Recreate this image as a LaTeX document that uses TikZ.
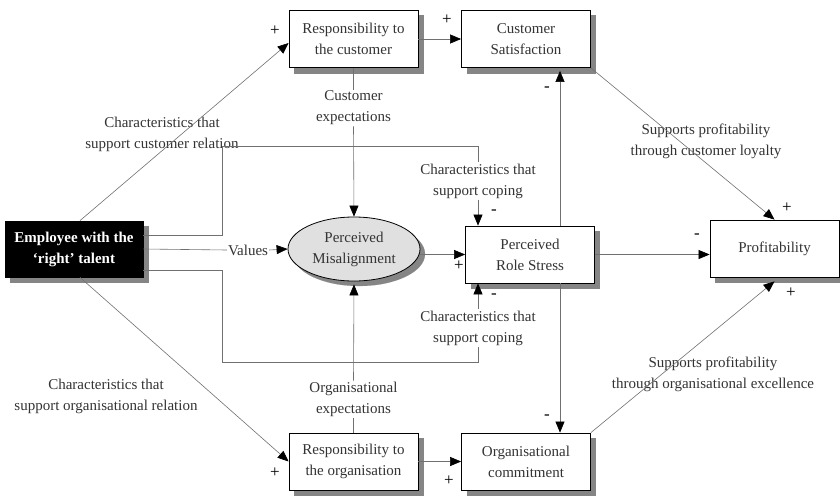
\documentclass[tikz,border=0pt]{standalone}
\usepackage{fontspec}
\setmainfont{Liberation Serif}
\usetikzlibrary{arrows.meta,shapes.geometric,calc}
\definecolor{txt}{HTML}{333333}
\definecolor{lncol}{HTML}{707070}
\definecolor{shgray}{rgb}{0.52,0.52,0.52}
\definecolor{ellfill}{HTML}{E0E0E0}
\begin{document}
\begin{tikzpicture}[x=1pt,y=-1pt,
  font=\fontsize{15}{21}\selectfont, text=txt,
  box/.style={draw=black, line width=0.8pt, fill=white, minimum width=129pt, minimum height=57pt, align=center, inner sep=0pt},
  lbl/.style={align=center, inner sep=1pt},
  sg/.style={inner sep=0pt, font=\fontsize{17}{17}\selectfont, text=black},
  ln/.style={draw=lncol, line width=0.6pt},
  arr/.style={ln, -{Triangle[length=11pt,width=9pt,color=black]}},
  shadowfill/.style={fill=shgray, draw=shgray, line width=0.1pt}
]
\useasboundingbox (0,0) rectangle (840,495);

% shadows (drawn first, offset 5 units right and down)
\path[shadowfill] (294,15) rectangle (423,73);
\path[shadowfill] (467,15) rectangle (595,73);
\path[shadowfill] (10,226) rectangle (148,282);
\path[shadowfill] (471,231) rectangle (599,288);
\path[shadowfill] (715,225) rectangle (844,282);
\path[shadowfill] (294,438) rectangle (423,495);
\path[shadowfill] (467,438) rectangle (595,495);
\path[shadowfill] (359,254) ellipse [x radius=66, y radius=32];

% boxes
\node[box] (rc) at (353.5,39) {Responsibility to\\the customer};
\node[box] (cs) at (526,39) {Customer\\Satisfaction};
\node[box, fill=black, text=white, font=\fontsize{15}{21}\selectfont\bfseries, minimum width=138pt, minimum height=56pt] (emp) at (74,249) {Employee with the\\‘right’ talent};
\node[box] (rs) at (530,254.5) {Perceived\\Role Stress};
\node[box] (pr) at (774.5,248.5) {Profitability};
\node[box] (ro) at (353.5,461.5) {Responsibility to\\the organisation};
\node[box] (oc) at (526,461.5) {Organisational\\commitment};
\node[ellipse, draw=black, line width=0.8pt, fill=ellfill, minimum width=132pt, minimum height=64pt, inner sep=0pt, align=center] (pm) at (354,249) {Perceived\\Misalignment};

% labels
\node[lbl] (ccr) at (162,134) {Characteristics that\\support customer relation};
\node[lbl] (cor) at (106,396) {Characteristics that\\support organisational relation};
\node[lbl] (cexp) at (353.5,108) {Customer\\expectations};
\node[lbl] (oexp) at (353.5,399) {Organisational\\expectations};
\node[lbl] (cop1) at (478,181) {Characteristics that\\support coping};
\node[lbl] (cop2) at (478,328) {Characteristics that\\support coping};
\node[lbl] (spl) at (706,141) {Supports profitability\\through customer loyalty};
\node[lbl] (spo) at (713,374) {Supports profitability\\through organisational excellence};
\node[lbl] (val) at (248,250) {Values};

% connectors
\draw[arr] ([xshift=6pt]emp.north) -- ([yshift=-4pt]rc.west);
\draw[arr] ([xshift=6pt]emp.south) -- (ro.west);
\draw[arr] (rc.east) -- (cs.west);
\draw[arr] (ro.east) -- (oc.west);
\draw[ln] (emp.east) -- (val.west);
\draw[arr] (val.east) -- (pm.west);
\draw[ln] ([yshift=14pt]emp.east) -| (222,146) -| (cop1.north);
\draw[arr] (cop1.south) -- (cop1.south |- rs.north);
\draw[ln] ([yshift=-21pt]emp.east) -| (222,362) -| (cop2.south);
\draw[arr] (cop2.north) -- (cop2.north |- rs.south);
\draw[ln] (rc.south) -- (cexp.north);
\draw[arr] (cexp.south) -- (pm.north);
\draw[ln] (ro.north) -- (oexp.south);
\draw[arr] (oexp.north) -- ([yshift=-3pt]pm.south);
\draw[arr] (pm.east |- rs.west) -- (rs.west);
\draw[arr] (rs.east) -- (rs.east -| pr.west);
\draw[arr] ([xshift=30pt]rs.north) -- ([xshift=30pt,yshift=-3pt]rs.north |- cs.south);
\draw[arr] ([xshift=30pt]rs.south) -- ([xshift=30pt]rs.south |- oc.north);
\draw[arr] (cs.south east) -- (pr.north);
\draw[arr] (oc.north east) -- ([yshift=-4pt]pr.south);

% signs
\node[sg] at (275,31) {+};
\node[sg] at (447,20) {+};
\node[sg] at (547,89) {-};
\node[sg] at (494,212) {-};
\node[sg] at (459,266) {+};
\node[sg] at (494,296) {-};
\node[sg] at (697,236) {-};
\node[sg] at (787,208) {+};
\node[sg] at (791,293) {+};
\node[sg] at (547,417) {-};
\node[sg] at (275,473) {+};
\node[sg] at (449,481) {+};
\end{tikzpicture}
\end{document}
